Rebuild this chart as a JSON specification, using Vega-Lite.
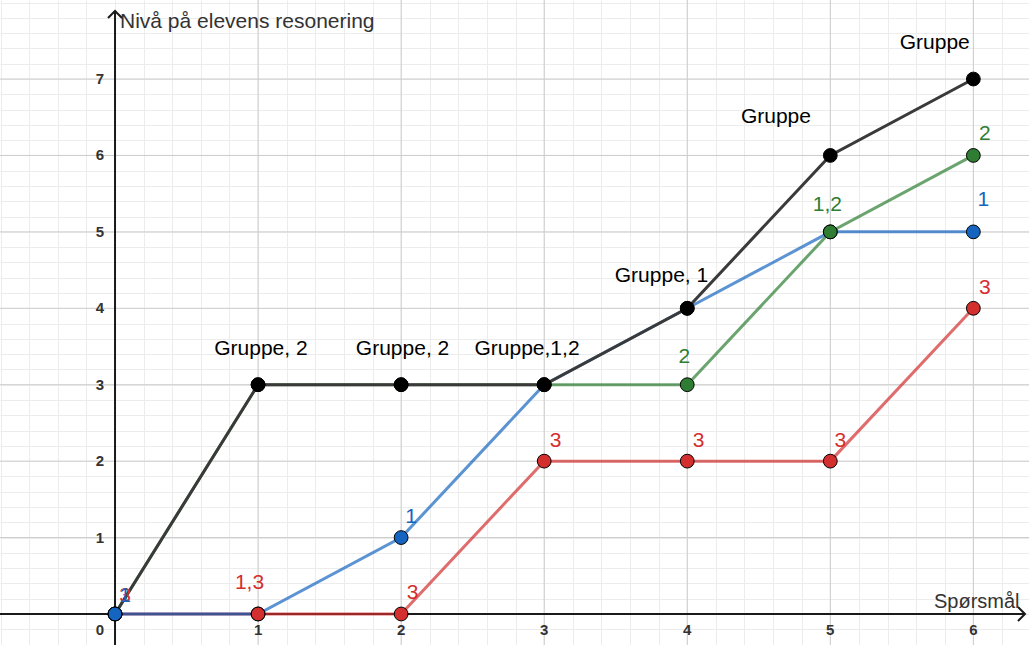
{
  "$schema": "https://vega.github.io/schema/vega-lite/v6.json",
  "width": 1029,
  "height": 645,
  "padding": 0,
  "autosize": {"type": "none"},
  "background": "white",
  "config": {
    "view": {"stroke": null},
    "font": "Liberation Sans",
    "axis": {"grid": true, "gridColor": "#ececec", "gridWidth": 1, "labels": false, "ticks": false, "domain": false, "titleOpacity": 0, "titleFontSize": 0},
    "axisX": {"tickCount": 40},
    "axisY": {"tickCount": 45}
  },
  "datasets": {
    "one": [{"k": 1}],
    "series": [
      {"s": "1", "x": 1, "y": 0}, {"s": "1", "x": 2, "y": 1}, {"s": "1", "x": 3, "y": 3}, {"s": "1", "x": 4, "y": 4}, {"s": "1", "x": 5, "y": 5}, {"s": "1", "x": 6, "y": 5},
      {"s": "3", "x": 0, "y": 0}, {"s": "3", "x": 1, "y": 0}, {"s": "3", "x": 2, "y": 0}, {"s": "3", "x": 3, "y": 2}, {"s": "3", "x": 4, "y": 2}, {"s": "3", "x": 5, "y": 2}, {"s": "3", "x": 6, "y": 4},
      {"s": "2", "x": 0, "y": 0}, {"s": "2", "x": 1, "y": 3}, {"s": "2", "x": 2, "y": 3}, {"s": "2", "x": 3, "y": 3}, {"s": "2", "x": 4, "y": 3}, {"s": "2", "x": 5, "y": 5}, {"s": "2", "x": 6, "y": 6},
      {"s": "Gruppe", "x": 0, "y": 0}, {"s": "Gruppe", "x": 1, "y": 3}, {"s": "Gruppe", "x": 2, "y": 3}, {"s": "Gruppe", "x": 3, "y": 3}, {"s": "Gruppe", "x": 4, "y": 4}, {"s": "Gruppe", "x": 5, "y": 6}, {"s": "Gruppe", "x": 6, "y": 7},
      {"s": "1", "x": 0, "y": 0}
    ],
    "labels": [
      {"x": 1.02, "y": 3.47, "t": "Gruppe, 2", "s": "Gruppe"},
      {"x": 2.01, "y": 3.47, "t": "Gruppe, 2", "s": "Gruppe"},
      {"x": 2.88, "y": 3.47, "t": "Gruppe,1,2", "s": "Gruppe"},
      {"x": 3.82, "y": 4.42, "t": "Gruppe, 1", "s": "Gruppe"},
      {"x": 4.62, "y": 6.5, "t": "Gruppe", "s": "Gruppe"},
      {"x": 5.73, "y": 7.47, "t": "Gruppe", "s": "Gruppe"},
      {"x": 0.07, "y": 0.235, "t": "3", "s": "3"},
      {"x": 0.94, "y": 0.4, "t": "1,3", "s": "3"},
      {"x": 2.08, "y": 0.275, "t": "3", "s": "3"},
      {"x": 3.08, "y": 2.26, "t": "3", "s": "3"},
      {"x": 4.08, "y": 2.26, "t": "3", "s": "3"},
      {"x": 5.07, "y": 2.26, "t": "3", "s": "3"},
      {"x": 6.08, "y": 4.27, "t": "3", "s": "3"},
      {"x": 0.07, "y": 0.235, "t": "1", "s": "1"},
      {"x": 2.07, "y": 1.27, "t": "1", "s": "1"},
      {"x": 6.07, "y": 5.42, "t": "1", "s": "1"},
      {"x": 3.98, "y": 3.36, "t": "2", "s": "2"},
      {"x": 4.98, "y": 5.35, "t": "1,2", "s": "2"},
      {"x": 6.08, "y": 6.28, "t": "2", "s": "2"}
    ],
    "xt": [{"v": 1}, {"v": 2}, {"v": 3}, {"v": 4}, {"v": 5}, {"v": 6}],
    "yt": [{"v": 1}, {"v": 2}, {"v": 3}, {"v": 4}, {"v": 5}, {"v": 6}, {"v": 7}]
  },
  "layer": [
    {
      "data": {"name": "series"},
      "mark": {"type": "point", "opacity": 0},
      "encoding": {
        "x": {"field": "x", "type": "quantitative", "title": null, "scale": {"domain": [-0.804, 6.389], "nice": false, "zero": false}},
        "y": {"field": "y", "type": "quantitative", "title": null, "scale": {"domain": [-0.406, 8.034], "nice": false, "zero": false}}
      }
    },
    {
      "data": {"name": "xt"},
      "mark": {"type": "rule", "color": "#cccccc", "strokeWidth": 1},
      "encoding": {"x": {"field": "v", "type": "quantitative", "title": null}}
    },
    {
      "data": {"name": "yt"},
      "mark": {"type": "rule", "color": "#cccccc", "strokeWidth": 1},
      "encoding": {"y": {"field": "v", "type": "quantitative", "title": null}}
    },
    {
      "data": {"name": "one"},
      "mark": {"type": "rule", "color": "#1a1a1a", "strokeWidth": 2},
      "encoding": {"y": {"datum": 0, "title": null}, "x": {"datum": -0.804, "title": null}, "x2": {"datum": 6.361}}
    },
    {
      "data": {"name": "one"},
      "mark": {"type": "rule", "color": "#1a1a1a", "strokeWidth": 2},
      "encoding": {"x": {"datum": 0, "title": null}, "y": {"datum": -0.406, "title": null}, "y2": {"datum": 7.89}}
    },
    {
      "data": {"name": "one"},
      "mark": {"type": "point", "shape": "M -1 1 L 0 0 L 1 1", "filled": false, "stroke": "#1a1a1a", "strokeWidth": 2, "size": 196, "opacity": 1},
      "encoding": {"x": {"datum": 0, "title": null}, "y": {"datum": 7.89, "title": null}}
    },
    {
      "data": {"name": "one"},
      "mark": {"type": "point", "shape": "M -1 -1 L 0 0 L -1 1", "filled": false, "stroke": "#1a1a1a", "strokeWidth": 2, "size": 196, "opacity": 1},
      "encoding": {"x": {"datum": 6.361, "title": null}, "y": {"datum": 0, "title": null}}
    },
    {
      "data": {"name": "xt"},
      "mark": {"type": "text", "fontWeight": "bold", "fontSize": 15, "color": "#333333", "baseline": "middle", "align": "center"},
      "encoding": {"x": {"field": "v", "type": "quantitative", "title": null}, "y": {"datum": -0.21, "title": null}, "text": {"field": "v", "type": "quantitative"}}
    },
    {
      "data": {"name": "yt"},
      "mark": {"type": "text", "fontWeight": "bold", "fontSize": 15, "color": "#333333", "baseline": "middle", "align": "center"},
      "encoding": {"y": {"field": "v", "type": "quantitative", "title": null}, "x": {"datum": -0.105, "title": null}, "text": {"field": "v", "type": "quantitative"}}
    },
    {
      "data": {"name": "one"},
      "mark": {"type": "text", "text": "0", "fontWeight": "bold", "fontSize": 15, "color": "#333333", "baseline": "middle", "align": "center"},
      "encoding": {"x": {"datum": -0.105, "title": null}, "y": {"datum": -0.21, "title": null}}
    },
    {
      "data": {"name": "one"},
      "mark": {"type": "text", "text": "Nivå på elevens resonering", "fontSize": 21, "color": "#333333", "baseline": "middle", "align": "left"},
      "encoding": {"x": {"datum": 0.035, "title": null}, "y": {"datum": 7.746, "title": null}}
    },
    {
      "data": {"name": "one"},
      "mark": {"type": "text", "text": "Spørsmål", "fontSize": 20, "color": "#333333", "baseline": "middle", "align": "right"},
      "encoding": {"x": {"datum": 6.323, "title": null}, "y": {"datum": 0.157, "title": null}}
    },
    {
      "data": {"name": "series"},
      "transform": [{"filter": "datum.s === '3'"}],
      "mark": {"type": "line", "color": "#d32f2f", "strokeWidth": 3, "opacity": 0.7},
      "encoding": {"x": {"field": "x", "type": "quantitative", "title": null}, "y": {"field": "y", "type": "quantitative", "title": null}}
    },
    {
      "data": {"name": "series"},
      "transform": [{"filter": "datum.s === '2'"}],
      "mark": {"type": "line", "color": "#2e7d32", "strokeWidth": 3, "opacity": 0.7},
      "encoding": {"x": {"field": "x", "type": "quantitative", "title": null}, "y": {"field": "y", "type": "quantitative", "title": null}}
    },
    {
      "data": {"name": "series"},
      "transform": [{"filter": "datum.s === '1'"}],
      "mark": {"type": "line", "color": "#1565c0", "strokeWidth": 3, "opacity": 0.7},
      "encoding": {"x": {"field": "x", "type": "quantitative", "title": null}, "y": {"field": "y", "type": "quantitative", "title": null}}
    },
    {
      "data": {"name": "series"},
      "transform": [{"filter": "datum.s === 'Gruppe'"}],
      "mark": {"type": "line", "color": "#3a3a3a", "strokeWidth": 3, "opacity": 1},
      "encoding": {"x": {"field": "x", "type": "quantitative", "title": null}, "y": {"field": "y", "type": "quantitative", "title": null}}
    },
    {
      "data": {"name": "series"},
      "mark": {"type": "point", "filled": true, "size": 190, "stroke": "#000000", "strokeWidth": 1, "opacity": 1},
      "encoding": {
        "x": {"field": "x", "type": "quantitative", "title": null}, "y": {"field": "y", "type": "quantitative", "title": null},
        "fill": {"field": "s", "type": "nominal", "legend": null, "scale": {"domain": ["Gruppe", "1", "2", "3"], "range": ["#000000", "#1565c0", "#2e7d32", "#d32f2f"]}}
      }
    },
    {
      "data": {"name": "labels"},
      "mark": {"type": "text", "fontSize": 21, "baseline": "middle", "align": "center"},
      "encoding": {
        "x": {"field": "x", "type": "quantitative", "title": null}, "y": {"field": "y", "type": "quantitative", "title": null},
        "text": {"field": "t", "type": "nominal"},
        "fill": {"field": "s", "type": "nominal", "legend": null, "scale": {"domain": ["Gruppe", "1", "2", "3"], "range": ["#000000", "#1565c0", "#2e7d32", "#d32f2f"]}}
      }
    }
  ]
}
